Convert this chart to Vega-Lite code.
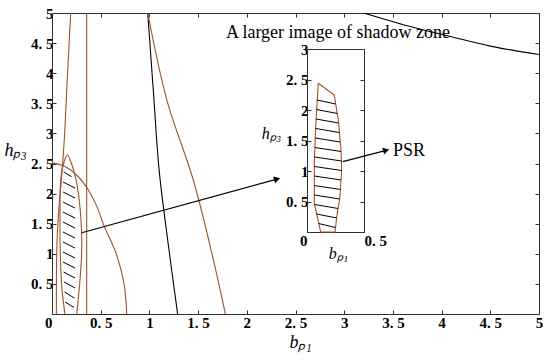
{
  "$schema": "https://vega.github.io/schema/vega-lite/v6.json",
  "width": 487,
  "height": 301,
  "autosize": {"type": "none"},
  "padding": {"left": 52, "top": 13, "right": 11, "bottom": 47},
  "background": "white",
  "config": {
    "view": {"stroke": null},
    "axis": {
      "grid": false,
      "domainColor": "#303030",
      "tickColor": "#303030",
      "tickSize": -4,
      "labelColor": "#000",
      "labelFont": "Liberation Serif",
      "labelFontSize": 15,
      "labelFontWeight": "bold",
      "titleFont": "Liberation Serif",
      "titleFontWeight": "normal",
      "titleFontStyle": "italic",
      "titleColor": "#000"
    }
  },
  "datasets": {
    "curves": [
      {"c": "A", "o": 0, "x": 0.192, "y": 5.0},
      {"c": "A", "o": 1, "x": 0.159, "y": 3.97},
      {"c": "A", "o": 2, "x": 0.126, "y": 2.89},
      {"c": "A", "o": 3, "x": 0.100, "y": 2.31},
      {"c": "A", "o": 4, "x": 0.070, "y": 1.73},
      {"c": "A", "o": 5, "x": 0.052, "y": 1.23},
      {"c": "A", "o": 6, "x": 0.046, "y": 0.7},
      {"c": "A", "o": 7, "x": 0.045, "y": 0.0},
      {"c": "E", "o": 0, "x": 0.133, "y": 0.0},
      {"c": "E", "o": 1, "x": 0.103, "y": 0.40},
      {"c": "E", "o": 2, "x": 0.087, "y": 0.90},
      {"c": "E", "o": 3, "x": 0.082, "y": 1.56},
      {"c": "E", "o": 4, "x": 0.092, "y": 2.28},
      {"c": "E", "o": 5, "x": 0.123, "y": 2.52},
      {"c": "E", "o": 6, "x": 0.157, "y": 2.64},
      {"c": "E", "o": 7, "x": 0.195, "y": 2.52},
      {"c": "E", "o": 8, "x": 0.254, "y": 2.17},
      {"c": "E", "o": 9, "x": 0.298, "y": 1.56},
      {"c": "E", "o": 10, "x": 0.305, "y": 1.06},
      {"c": "E", "o": 11, "x": 0.287, "y": 0.56},
      {"c": "E", "o": 12, "x": 0.254, "y": 0.0},
      {"c": "C", "o": 0, "x": 0.0, "y": 2.51},
      {"c": "C", "o": 1, "x": 0.133, "y": 2.45},
      {"c": "C", "o": 2, "x": 0.27, "y": 2.28},
      {"c": "C", "o": 3, "x": 0.373, "y": 2.06},
      {"c": "C", "o": 4, "x": 0.47, "y": 1.75},
      {"c": "C", "o": 5, "x": 0.53, "y": 1.48},
      {"c": "C", "o": 6, "x": 0.66, "y": 1.0},
      {"c": "C", "o": 7, "x": 0.74, "y": 0.5},
      {"c": "C", "o": 8, "x": 0.767, "y": 0.0},
      {"c": "V", "o": 0, "x": 0.356, "y": 0.0},
      {"c": "V", "o": 1, "x": 0.356, "y": 5.0},
      {"c": "K1", "o": 0, "x": 0.983, "y": 5.0},
      {"c": "K1", "o": 1, "x": 1.045, "y": 3.6},
      {"c": "K1", "o": 2, "x": 1.10, "y": 2.39},
      {"c": "K1", "o": 3, "x": 1.19, "y": 1.2},
      {"c": "K1", "o": 4, "x": 1.29, "y": 0.0},
      {"c": "B2", "o": 0, "x": 0.983, "y": 5.0},
      {"c": "B2", "o": 1, "x": 1.18, "y": 3.55},
      {"c": "B2", "o": 2, "x": 1.45, "y": 2.23},
      {"c": "B2", "o": 3, "x": 1.65, "y": 0.95},
      {"c": "B2", "o": 4, "x": 1.78, "y": 0.0},
      {"c": "K2", "o": 0, "x": 3.2, "y": 5.0},
      {"c": "K2", "o": 1, "x": 3.6, "y": 4.81},
      {"c": "K2", "o": 2, "x": 4.09, "y": 4.61},
      {"c": "K2", "o": 3, "x": 4.5, "y": 4.45},
      {"c": "K2", "o": 4, "x": 5.0, "y": 4.31}
    ],
    "hatchMain": [
      {"x": 0.12, "y": 2.36, "x2": 0.20, "y2": 2.28},
      {"x": 0.113, "y": 2.193, "x2": 0.236, "y2": 2.093},
      {"x": 0.113, "y": 2.027, "x2": 0.236, "y2": 1.927},
      {"x": 0.113, "y": 1.860, "x2": 0.236, "y2": 1.760},
      {"x": 0.113, "y": 1.694, "x2": 0.236, "y2": 1.594},
      {"x": 0.113, "y": 1.528, "x2": 0.236, "y2": 1.428},
      {"x": 0.113, "y": 1.362, "x2": 0.236, "y2": 1.262},
      {"x": 0.113, "y": 1.196, "x2": 0.236, "y2": 1.096},
      {"x": 0.113, "y": 1.030, "x2": 0.236, "y2": 0.930},
      {"x": 0.113, "y": 0.864, "x2": 0.236, "y2": 0.764},
      {"x": 0.118, "y": 0.698, "x2": 0.236, "y2": 0.598},
      {"x": 0.123, "y": 0.532, "x2": 0.236, "y2": 0.432},
      {"x": 0.128, "y": 0.365, "x2": 0.230, "y2": 0.265},
      {"x": 0.135, "y": 0.199, "x2": 0.225, "y2": 0.110}
    ],
    "arrows": [
      {"x": 0.305, "y": 1.35, "x2": 2.32, "y2": 2.245},
      {"x": 2.985, "y": 2.53, "x2": 3.44, "y2": 2.723}
    ],
    "heads": [
      {"x": 2.311, "y": 2.241},
      {"x": 3.431, "y": 2.719}
    ],
    "labels": [
      {"x": 1.786, "y": 4.66, "t": "A larger image of shadow zone"},
      {"x": 3.50, "y": 2.71, "t": "PSR"}
    ],
    "poly": [
      {"o": 0, "x": 0.099, "y": 2.438},
      {"o": 1, "x": 0.239, "y": 2.246},
      {"o": 2, "x": 0.275, "y": 1.836},
      {"o": 3, "x": 0.298, "y": 1.344},
      {"o": 4, "x": 0.304, "y": 1.016},
      {"o": 5, "x": 0.289, "y": 0.579},
      {"o": 6, "x": 0.261, "y": 0.251},
      {"o": 7, "x": 0.246, "y": 0.0},
      {"o": 8, "x": 0.120, "y": 0.0},
      {"o": 9, "x": 0.064, "y": 0.470},
      {"o": 10, "x": 0.064, "y": 1.131},
      {"o": 11, "x": 0.079, "y": 1.836},
      {"o": 12, "x": 0.099, "y": 2.438}
    ],
    "hatchInset": [
      {"x": 0.089, "y": 2.164, "x2": 0.252, "y2": 2.098},
      {"x": 0.084, "y": 2.008, "x2": 0.266, "y2": 1.943},
      {"x": 0.079, "y": 1.852, "x2": 0.277, "y2": 1.787},
      {"x": 0.076, "y": 1.697, "x2": 0.284, "y2": 1.631},
      {"x": 0.073, "y": 1.541, "x2": 0.292, "y2": 1.475},
      {"x": 0.069, "y": 1.385, "x2": 0.298, "y2": 1.320},
      {"x": 0.066, "y": 1.230, "x2": 0.302, "y2": 1.164},
      {"x": 0.064, "y": 1.074, "x2": 0.304, "y2": 1.008},
      {"x": 0.064, "y": 0.918, "x2": 0.298, "y2": 0.852},
      {"x": 0.064, "y": 0.762, "x2": 0.294, "y2": 0.697},
      {"x": 0.064, "y": 0.607, "x2": 0.286, "y2": 0.541},
      {"x": 0.066, "y": 0.451, "x2": 0.273, "y2": 0.385},
      {"x": 0.083, "y": 0.295, "x2": 0.260, "y2": 0.230},
      {"x": 0.102, "y": 0.139, "x2": 0.249, "y2": 0.074}
    ]
  },
  "resolve": {"scale": {"x": "independent", "y": "independent", "color": "independent"}},
  "layer": [
    {
      "data": {"name": "curves"},
      "mark": {"type": "line", "interpolate": "catmull-rom", "strokeWidth": 1.1, "clip": true},
      "encoding": {
        "x": {"field": "x", "type": "quantitative", "scale": {"domain": [0, 5]},
          "axis": {"orient": "bottom", "values": [0, 0.5, 1, 1.5, 2, 2.5, 3, 3.5, 4, 4.5, 5],
            "labelExpr": "datum.value == 0 ? '0\u00a0' : (datum.value % 1 == 0 ? format(datum.value, 'd') : replace(format(datum.value, '.1f'), '.', '.\u00a0'))",
            "labelAlign": {"condition": {"test": "datum.value == 0", "value": "right"}, "value": "center"},
            "labelPadding": 5,
            "title": "bₚ₁", "titleFontSize": 18, "titleX": 248, "titleY": 33, "titleAlign": "center", "titleBaseline": "alphabetic"}},
        "y": {"field": "y", "type": "quantitative", "scale": {"domain": [0, 5]},
          "axis": {"orient": "left", "values": [0, 0.5, 1, 1.5, 2, 2.5, 3, 3.5, 4, 4.5, 5],
            "labelExpr": "datum.value == 0 ? '' : (datum.value % 1 == 0 ? format(datum.value, 'd') : replace(format(datum.value, '.1f'), '.', '.\u00a0'))",
            "labelPadding": 3,
            "title": "hₚ₃", "titleFontSize": 18, "titleAngle": 0, "titleX": -37, "titleY": 142, "titleAlign": "center", "titleBaseline": "alphabetic"}},
        "order": {"field": "o", "type": "quantitative"},
        "color": {"field": "c", "type": "nominal",
          "scale": {"domain": ["A", "E", "C", "V", "K1", "B2", "K2"], "range": ["#A0522D", "#A0522D", "#A0522D", "#A0522D", "#000000", "#A0522D", "#000000"]},
          "legend": null}
      }
    },
    {
      "data": {"name": "hatchMain"},
      "mark": {"type": "rule", "color": "#000", "strokeWidth": 1},
      "encoding": {
        "x": {"field": "x", "type": "quantitative", "scale": {"domain": [0, 5]},
          "axis": {"orient": "top", "values": [0, 0.5, 1, 1.5, 2, 2.5, 3, 3.5, 4, 4.5, 5], "labels": false, "title": null}},
        "y": {"field": "y", "type": "quantitative", "scale": {"domain": [0, 5]},
          "axis": {"orient": "right", "values": [0, 0.5, 1, 1.5, 2, 2.5, 3, 3.5, 4, 4.5, 5], "labels": false, "title": null}},
        "x2": {"field": "x2"},
        "y2": {"field": "y2"}
      }
    },
    {
      "data": {"name": "arrows"},
      "mark": {"type": "rule", "color": "#000", "strokeWidth": 1.2},
      "encoding": {
        "x": {"field": "x", "type": "quantitative", "scale": {"domain": [0, 5]}, "axis": null},
        "y": {"field": "y", "type": "quantitative", "scale": {"domain": [0, 5]}, "axis": null},
        "x2": {"field": "x2"},
        "y2": {"field": "y2"}
      }
    },
    {
      "data": {"name": "heads"},
      "mark": {"type": "point", "shape": "triangle-right", "filled": true, "color": "#000", "size": 50, "angle": 345, "opacity": 1},
      "encoding": {
        "x": {"field": "x", "type": "quantitative", "scale": {"domain": [0, 5]}, "axis": null},
        "y": {"field": "y", "type": "quantitative", "scale": {"domain": [0, 5]}, "axis": null}
      }
    },
    {
      "data": {"name": "labels"},
      "mark": {"type": "text", "align": "left", "baseline": "middle", "font": "Liberation Serif", "fontSize": 18, "color": "#000"},
      "encoding": {
        "x": {"field": "x", "type": "quantitative", "scale": {"domain": [0, 5]}, "axis": null},
        "y": {"field": "y", "type": "quantitative", "scale": {"domain": [0, 5]}, "axis": null},
        "text": {"field": "t"}
      }
    },
    {
      "data": {"name": "poly"},
      "mark": {"type": "line", "color": "#A0522D", "strokeWidth": 1.1},
      "encoding": {
        "x": {"field": "x", "type": "quantitative", "scale": {"domain": [0, 0.5], "range": [255, 312]},
          "axis": {"orient": "bottom", "offset": -82, "values": [0, 0.5],
            "labelExpr": "datum.value == 0 ? '0\u00a0' : replace(format(datum.value, '.1f'), '.', '.\u00a0')",
            "labelAlign": {"condition": {"test": "datum.value == 0", "value": "right"}, "value": "left"},
            "labelPadding": 5,
            "title": "bₚ₁", "titleFontSize": 16, "titleX": 286, "titleY": 26, "titleAlign": "center", "titleBaseline": "alphabetic"}},
        "y": {"field": "y", "type": "quantitative", "scale": {"domain": [0, 3], "range": [219, 36]},
          "axis": {"orient": "left", "offset": -255, "values": [0, 0.5, 1, 1.5, 2, 2.5, 3],
            "labelExpr": "datum.value == 0 ? '' : (datum.value % 1 == 0 ? format(datum.value, 'd') : replace(format(datum.value, '.1f'), '.', '.\u00a0'))",
            "labelPadding": 3,
            "title": "hₚ₃", "titleFontSize": 16, "titleAngle": 0, "titleX": -36, "titleY": 125, "titleAlign": "center", "titleBaseline": "alphabetic"}},
        "order": {"field": "o", "type": "quantitative"}
      }
    },
    {
      "data": {"name": "hatchInset"},
      "mark": {"type": "rule", "color": "#000", "strokeWidth": 1},
      "encoding": {
        "x": {"field": "x", "type": "quantitative", "scale": {"domain": [0, 0.5], "range": [255, 312]},
          "axis": {"orient": "top", "offset": -36, "values": [0, 0.5], "labels": false, "ticks": false, "title": null}},
        "y": {"field": "y", "type": "quantitative", "scale": {"domain": [0, 3], "range": [219, 36]},
          "axis": {"orient": "right", "offset": -175, "values": [0, 0.5, 1, 1.5, 2, 2.5, 3], "labels": false, "title": null}},
        "x2": {"field": "x2"},
        "y2": {"field": "y2"}
      }
    }
  ]
}
